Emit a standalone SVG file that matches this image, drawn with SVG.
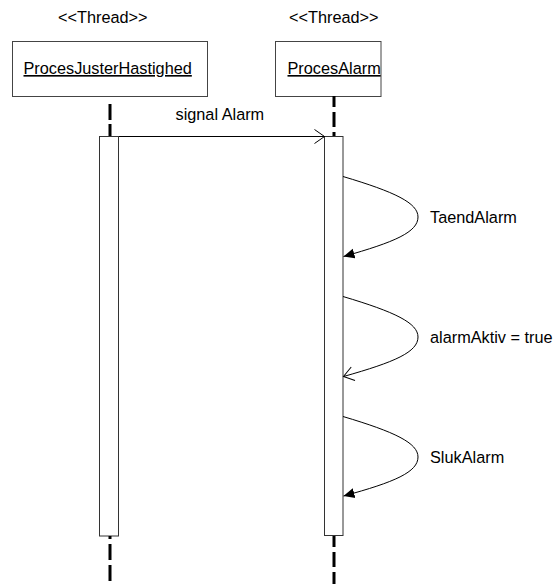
<svg xmlns="http://www.w3.org/2000/svg" width="556" height="584" viewBox="0 0 556 584">
  <style>
    .lbl { font-family: "Liberation Sans", Arial, sans-serif; font-size: 16.3px; fill: #000; }
    .obj { fill: #fff; stroke: #444; stroke-width: 1; }
    .act { fill: #fff; stroke: #333; stroke-width: 1; }
    .life { stroke: #000; stroke-width: 3; fill: none; }
    .msg { stroke: #000; stroke-width: 1; fill: none; }
  </style>
  <defs>
    <marker id="open" viewBox="0 0 12 16" refX="11" refY="8" markerWidth="12" markerHeight="16" markerUnits="userSpaceOnUse" orient="auto">
      <path d="M1,1 L11,8 L1,15" fill="none" stroke="#000" stroke-width="1"/>
    </marker>
    <marker id="filled" viewBox="0 0 12 12" refX="11" refY="6" markerWidth="12" markerHeight="12" markerUnits="userSpaceOnUse" orient="auto">
      <path d="M0,1 L11,6 L0,11 Z" fill="#000"/>
    </marker>
  </defs>
  <rect width="556" height="584" fill="#fff"/>

  <!-- Object: ProcesJusterHastighed -->
  <g id="procesJusterHastighed">
    <text class="lbl" x="58" y="23">&lt;&lt;Thread&gt;&gt;</text>
    <rect class="obj" x="12.5" y="41.5" width="195" height="55"/>
    <text class="lbl" x="23.5" y="74" text-decoration="underline">ProcesJusterHastighed</text>
    <line class="life" x1="110" y1="104" x2="110" y2="136" stroke-dasharray="16,4"/>
    <rect class="act" x="99.5" y="136.5" width="19" height="399.5"/>
    <line class="life" x1="110" y1="536" x2="110" y2="584" stroke-dasharray="3,5,16,5,16,5"/>
  </g>

  <!-- Object: ProcesAlarm -->
  <g id="procesAlarm">
    <text class="lbl" x="289" y="23">&lt;&lt;Thread&gt;&gt;</text>
    <rect class="obj" x="275.5" y="41.5" width="105.5" height="55"/>
    <text class="lbl" x="287.5" y="74" text-decoration="underline">ProcesAlarm</text>
    <line class="life" x1="334" y1="96" x2="334" y2="137" stroke-dasharray="15,5" stroke-dashoffset="4"/>
    <rect class="act" x="324.5" y="136.5" width="18.5" height="399"/>
    <line class="life" x1="334" y1="536" x2="334" y2="584" stroke-dasharray="11,5,15,5,15,5"/>
  </g>

  <!-- Messages -->
  <g id="connectors">
    <line class="msg" x1="119" y1="136.5" x2="324.5" y2="136.5" marker-end="url(#open)"/>
    <text class="lbl" x="175.5" y="119.5">signal Alarm</text>

    <path class="msg" d="M343,176.5 C395,192 418,203 418,217 C418,232 395,242 343.5,256.5" marker-end="url(#filled)"/>
    <text class="lbl" x="430" y="222.7">TaendAlarm</text>

    <path class="msg" d="M343,296.5 C395,312 418,323 418,337 C418,352 395,362 343.5,376.5" marker-end="url(#open)"/>
    <text class="lbl" x="430" y="342.7">alarmAktiv = true</text>

    <path class="msg" d="M343,416.5 C395,432 418,443 418,457 C418,472 395,482 343.5,496" marker-end="url(#filled)"/>
    <text class="lbl" x="430" y="462.7">SlukAlarm</text>
  </g>
</svg>
